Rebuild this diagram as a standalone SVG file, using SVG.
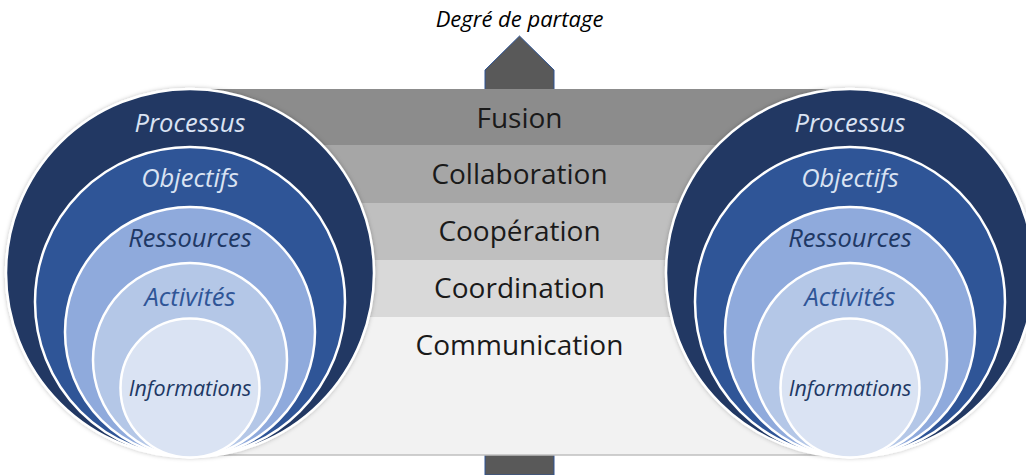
<svg xmlns="http://www.w3.org/2000/svg" width="1026" height="475" viewBox="0 0 1026 475">
<defs>
<filter id="sh" x="-10%" y="-10%" width="120%" height="120%">
<feDropShadow dx="0" dy="0" stdDeviation="2" flood-color="#000" flood-opacity="0.25"/>
</filter>
</defs>
<style>
.band-t{font-family:"Open Sans",Lato,sans-serif;font-size:28px;fill:#1a1a1a;text-anchor:middle}
.c-t{font-family:"Open Sans",Lato,sans-serif;font-style:italic;text-anchor:middle;font-size:25.5px}
.c-t.small{font-size:21.5px}
.ring{stroke:#fff;stroke-width:2.5}
.light{fill:#dae3f3}
.dark{fill:#203864}
.mid{fill:#2f5597}
</style>
<rect width="1026" height="475" fill="#fff"/>
<g id="axis-arrow">
<polygon points="485,475 485,70 519.5,36 554,70 554,475" fill="#595959" stroke="#2f5597" stroke-width="1"/>
<text x="519.5" y="26.5" font-family="'Open Sans',Lato,sans-serif" font-style="italic" font-size="22" text-anchor="middle" fill="#000">Degré de partage</text>
</g>
<g id="bands">
<g id="band-fusion"><rect x="190" y="89" width="660" height="56" fill="#8c8c8c"/><text class="band-t" x="519.5" y="127.5">Fusion</text></g>
<g id="band-collaboration"><rect x="190" y="145" width="660" height="58" fill="#a6a6a6"/><text class="band-t" x="519.5" y="184.3">Collaboration</text></g>
<g id="band-cooperation"><rect x="190" y="203" width="660" height="57" fill="#bfbfbf"/><text class="band-t" x="519.5" y="241">Coopération</text></g>
<g id="band-coordination"><rect x="190" y="260" width="660" height="57" fill="#d9d9d9"/><text class="band-t" x="519.5" y="298">Coordination</text></g>
<g id="band-communication"><rect x="190" y="317" width="660" height="138" fill="#f2f2f2"/><line x1="190" y1="455" x2="850" y2="455" stroke="#bfbfbf" stroke-width="1.5"/><text class="band-t" x="519.5" y="355">Communication</text></g>
</g>
<g id="left-circles">
<circle cx="190" cy="273" r="184" fill="#203864" class="ring" filter="url(#sh)"/>
<circle cx="190" cy="302" r="155" fill="#2f5597" class="ring"/>
<circle cx="190" cy="332" r="125" fill="#8faadc" class="ring"/>
<circle cx="190" cy="360" r="97" fill="#b4c7e7" class="ring"/>
<circle cx="190" cy="388" r="69.5" fill="#dae3f3" class="ring"/>
<text class="c-t light" x="190" y="131.5">Processus</text>
<text class="c-t light" x="190" y="187.3">Objectifs</text>
<text class="c-t dark" x="190" y="247.3">Ressources</text>
<text class="c-t mid" x="190" y="305.7">Activités</text>
<text class="c-t dark small" x="190" y="396">Informations</text>
</g>
<g id="right-circles">
<circle cx="850" cy="273" r="184" fill="#203864" class="ring" filter="url(#sh)"/>
<circle cx="850" cy="302" r="155" fill="#2f5597" class="ring"/>
<circle cx="850" cy="332" r="125" fill="#8faadc" class="ring"/>
<circle cx="850" cy="360" r="97" fill="#b4c7e7" class="ring"/>
<circle cx="850" cy="388" r="69.5" fill="#dae3f3" class="ring"/>
<text class="c-t light" x="850" y="131.5">Processus</text>
<text class="c-t light" x="850" y="187.3">Objectifs</text>
<text class="c-t dark" x="850" y="247.3">Ressources</text>
<text class="c-t mid" x="850" y="305.7">Activités</text>
<text class="c-t dark small" x="850" y="396">Informations</text>
</g>
</svg>
